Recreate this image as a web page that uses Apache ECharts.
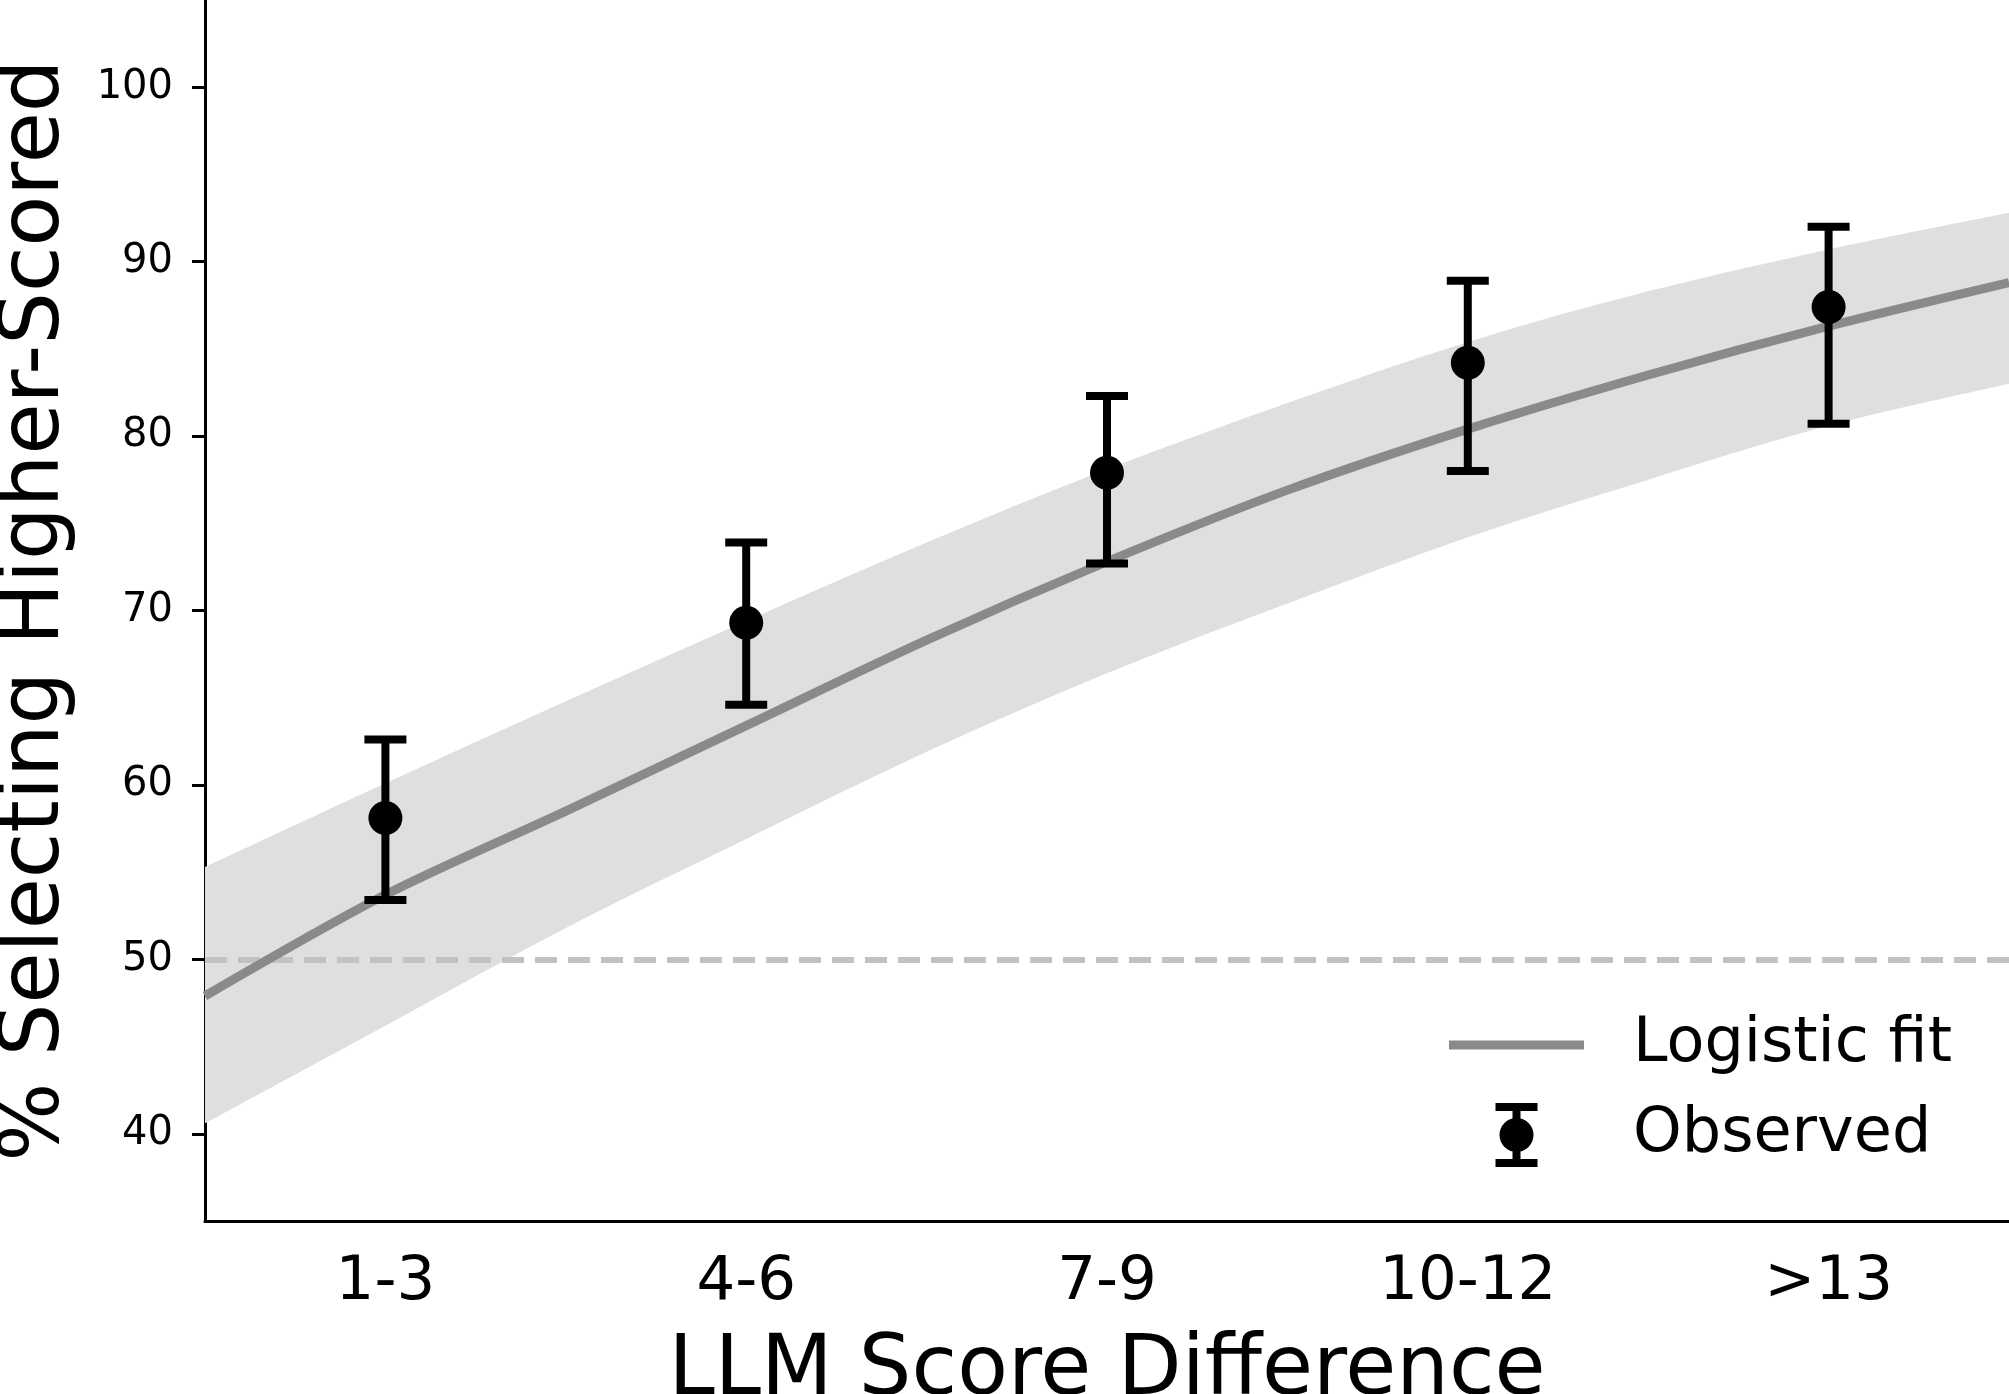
<!DOCTYPE html>
<html>
<head>
<meta charset="utf-8">
<script src="https://cdn.jsdelivr.net/npm/echarts@6/dist/echarts.min.js"></script>
<style>
  html, body { margin: 0; padding: 0; background: #fff; }
  #main { width: 2009px; height: 1394px; }
</style>
</head>
<body>
<div id="main"></div>
<script>
// observed points, one per score bucket
let categories = ['1-3', '4-6', '7-9', '10-12', '>13'];
let obsMean = [58.1, 69.3, 77.9, 84.2, 87.4];
let obsLow = [53.4, 64.6, 72.7, 78.0, 80.7];
let obsHigh = [62.6, 73.9, 82.3, 88.9, 92.0];

// logistic fit, x in category units
let fitX = [-0.5, 0, 0.5, 1, 1.5, 2, 2.5, 3, 3.5, 4, 4.5];
let fitY = [47.9, 53.7, 58.5, 63.4, 68.3, 72.8, 76.9, 80.4, 83.5, 86.3, 88.8];
let bandUpper = [55.3, 60.1, 64.8, 69.4, 73.9, 78.1, 81.9, 85.4, 88.3, 90.7, 92.8];
let bandLower = [40.6, 46.2, 51.8, 56.9, 61.9, 66.4, 70.4, 74.2, 77.5, 80.6, 83.0];

let yTicks = [40, 50, 60, 70, 80, 90, 100];
let chanceLevel = 50;

let font = 'DejaVu Sans';
let myChart = echarts.init(document.getElementById('main'), null, {renderer: 'canvas'});

let fitData = fitX.map(function (x, i) { return [x, fitY[i]]; });
let errData = categories.map(function (c, i) { return [i, obsLow[i], obsHigh[i]]; });

// smooth curve through pixel points (catmull-rom as cubic beziers)
function curveTo(pts) {
    let d = '';
    for (let i = 0; i < pts.length - 1; i++) {
        let p0 = pts[i - 1] || pts[i];
        let p1 = pts[i];
        let p2 = pts[i + 1];
        let p3 = pts[i + 2] || p2;
        let c1 = [p1[0] + (p2[0] - p0[0]) / 6, p1[1] + (p2[1] - p0[1]) / 6];
        let c2 = [p2[0] - (p3[0] - p1[0]) / 6, p2[1] - (p3[1] - p1[1]) / 6];
        d += ' C' + c1.join(',') + ' ' + c2.join(',') + ' ' + p2.join(',');
    }
    return d;
}

let option = {
    animation: false,
    textStyle: {fontFamily: font},
    grid: {left: 205, right: 0, top: 0, bottom: 173, outerBoundsMode: 'none', containLabel: false},
    legend: {
        orient: 'vertical',
        left: 1449,
        top: 1014,
        padding: 0,
        itemWidth: 135,
        itemHeight: 64,
        itemGap: 27,
        itemStyle: {borderWidth: 0},
        textStyle: {fontSize: 62, color: '#000', fontFamily: font, padding: [0, 0, 0, 44]},
        data: [
            {name: 'Logistic fit', icon: 'path://M0,0H135V9H0Z'},
            {name: 'Observed', icon: 'path://M0,0H42V8H0Z M17,8H25V16H17Z M4,32A17,17 0 1 1 38,32A17,17 0 1 1 4,32Z M17,48H25V56H17Z M0,56H42V64H0Z'}
        ]
    },
    xAxis: [{
        type: 'category',
        data: categories,
        boundaryGap: true,
        name: 'LLM Score Difference',
        nameLocation: 'middle',
        nameGap: 110,
        nameTextStyle: {fontSize: 83, color: '#000', fontFamily: font},
        axisLine: {onZero: false, lineStyle: {color: '#000', width: 3}},
        axisTick: {alignWithLabel: true, length: 13, lineStyle: {color: '#000', width: 3}},
        axisLabel: {fontSize: 61, color: '#000', margin: 32, fontFamily: font},
        splitLine: {show: false}
    }, {
        // continuous axis for the fitted curve and band
        type: 'value',
        min: -0.5,
        max: 4.5,
        show: false
    }],
    yAxis: {
        type: 'value',
        min: 35,
        max: 105,
        interval: 10,
        name: '% Selecting Higher-Scored',
        nameLocation: 'middle',
        nameGap: 127,
        nameTextStyle: {fontSize: 83, color: '#000', fontFamily: font},
        axisLine: {show: true, onZero: false, lineStyle: {color: '#000', width: 3}},
        axisTick: {show: true, length: 13, customValues: yTicks, lineStyle: {color: '#000', width: 3}},
        axisLabel: {fontSize: 40, color: '#000', margin: 32, customValues: yTicks, fontFamily: font},
        splitLine: {show: false}
    },
    series: [{
        name: 'band',
        type: 'custom',
        xAxisIndex: 1,
        z: 1,
        silent: true,
        data: [[fitX[0], bandLower[0]]],
        renderItem: function (params, api) {
            let up = fitX.map(function (x, i) { return api.coord([x, bandUpper[i]]); });
            let low = fitX.map(function (x, i) { return api.coord([x, bandLower[i]]); }).reverse();
            let d = 'M' + up[0].join(',') + curveTo(up) + ' L' + low[0].join(',') + curveTo(low) + ' Z';
            return {
                type: 'path',
                shape: {pathData: d},
                style: {fill: '#dfdfdf', stroke: null}
            };
        }
    }, {
        name: 'Logistic fit',
        type: 'line',
        xAxisIndex: 1,
        z: 3,
        data: fitData,
        smooth: 0.3,
        showSymbol: false,
        symbol: 'none',
        color: '#8a8a8a',
        lineStyle: {color: '#8a8a8a', width: 9},
        markLine: {
            z: 2,
            silent: true,
            symbol: 'none',
            label: {show: false},
            lineStyle: {color: '#c2c2c2', width: 6, type: [22, 11]},
            data: [{yAxis: chanceLevel}]
        }
    }, {
        name: 'Observed',
        type: 'custom',
        z: 4,
        color: '#000',
        data: errData,
        encode: {x: 0, y: [1, 2]},
        renderItem: function (params, api) {
            let i = api.value(0);
            let lo = api.coord([i, api.value(1)]);
            let hi = api.coord([i, api.value(2)]);
            let half = 21;
            let st = {stroke: '#000', lineWidth: 8, lineCap: 'butt'};
            return {
                type: 'group',
                children: [
                    {type: 'line', shape: {x1: hi[0], y1: hi[1], x2: lo[0], y2: lo[1]}, style: st},
                    {type: 'line', shape: {x1: hi[0] - half, y1: hi[1], x2: hi[0] + half, y2: hi[1]}, style: st},
                    {type: 'line', shape: {x1: lo[0] - half, y1: lo[1], x2: lo[0] + half, y2: lo[1]}, style: st}
                ]
            };
        }
    }, {
        name: 'Observed',
        type: 'scatter',
        z: 5,
        symbol: 'circle',
        symbolSize: 34,
        itemStyle: {color: '#000', opacity: 1},
        data: obsMean
    }]
};

myChart.setOption(option);
</script>
</body>
</html>
